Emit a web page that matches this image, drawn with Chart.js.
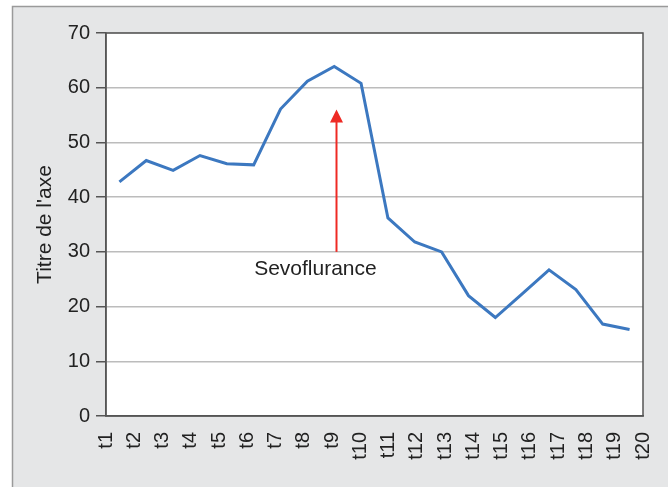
<!DOCTYPE html>
<html><head><meta charset="utf-8">
<script src="https://cdn.jsdelivr.net/npm/chart.js@4.4.1/dist/chart.umd.min.js"></script>
<style>html,body{margin:0;padding:0;background:#fff}#wrap{width:668px;height:487px;position:relative}</style>
</head><body><div id="wrap"><canvas id="c" width="668" height="487"></canvas></div>
<script>
const categories = ['t1','t2','t3','t4','t5','t6','t7','t8','t9','t10','t11','t12','t13','t14','t15','t16','t17','t18','t19','t20'];
const values = [42.8, 46.7, 44.9, 47.6, 46.1, 45.9, 56.1, 61.2, 63.9, 60.8, 36.2, 31.8, 30.0, 22.0, 18.0, 22.3, 26.7, 23.1, 16.8, 15.8];
const yTicks = [0, 10, 20, 30, 40, 50, 60, 70];
const yTitle = "Titre de l'axe";
const arrowCategory = 't9';
const arrowFrom = 30;
const arrowTo = 56;
const arrowLabel = 'Sevoflurance';
const arrowLabelCategoryPos = 7.3;
const arrowLabelValue = 26.9;

const FONT = "'Liberation Sans', Arial, sans-serif";

const framePlugin = {
  id: 'frame',
  beforeDraw(chart) {
    const ctx = chart.ctx, a = chart.chartArea;
    ctx.save();
    ctx.fillStyle = '#ffffff';
    ctx.fillRect(0, 0, chart.width, chart.height);
    ctx.fillStyle = '#e5e6e7';
    ctx.fillRect(12, 6, chart.width, chart.height);
    ctx.strokeStyle = '#9a9a9a';
    ctx.lineWidth = 1.5;
    ctx.beginPath();
    ctx.moveTo(12.5, chart.height + 2);
    ctx.lineTo(12.5, 6.5);
    ctx.lineTo(chart.width + 2, 6.5);
    ctx.stroke();
    ctx.fillStyle = '#ffffff';
    ctx.fillRect(a.left, a.top, a.right - a.left, a.bottom - a.top);
    ctx.restore();
  },
  afterDatasetsDraw(chart) {
    const ctx = chart.ctx, a = chart.chartArea;
    const xs = chart.scales.xd, ys = chart.scales.y;
    ctx.save();
    ctx.strokeStyle = '#555555';
    ctx.lineWidth = 1.5;
    ctx.strokeRect(a.left, a.top, a.right - a.left, a.bottom - a.top);
    // arrow
    const ax = Math.round(xs.getPixelForValue(categories.indexOf(arrowCategory))) + 0.5 + 2;
    const y0 = ys.getPixelForValue(arrowFrom);
    const y1 = ys.getPixelForValue(arrowTo);
    ctx.strokeStyle = '#ee2a24';
    ctx.fillStyle = '#ee2a24';
    ctx.lineWidth = 2;
    ctx.beginPath();
    ctx.moveTo(ax, y0);
    ctx.lineTo(ax, y1 + 10);
    ctx.stroke();
    ctx.beginPath();
    ctx.moveTo(ax, y1);
    ctx.lineTo(ax - 6.5, y1 + 13);
    ctx.lineTo(ax + 6.5, y1 + 13);
    ctx.closePath();
    ctx.fill();
    // label
    ctx.fillStyle = '#222222';
    ctx.font = '21px ' + FONT;
    ctx.textAlign = 'center';
    ctx.textBaseline = 'middle';
    ctx.fillText(arrowLabel, xs.getPixelForValue(arrowLabelCategoryPos), ys.getPixelForValue(arrowLabelValue));
    ctx.restore();
  }
};

new Chart(document.getElementById('c'), {
  type: 'line',
  data: {
    labels: categories,
    datasets: [{
      data: values,
      xAxisID: 'xd',
      borderColor: '#3c78c0',
      borderWidth: 3,
      pointRadius: 0,
      tension: 0,
      fill: false
    }]
  },
  options: {
    responsive: false,
    animation: false,
    devicePixelRatio: 1,
    layout: { padding: { left: 0, top: 33, right: 25, bottom: 0 } },
    plugins: { legend: { display: false }, tooltip: { enabled: false } },
    scales: {
      xd: {
        type: 'category',
        labels: categories,
        offset: true,
        display: false
      },
      x: {
        type: 'category',
        labels: categories,
        offset: false,
        position: 'bottom',
        grid: { display: false, drawTicks: false },
        border: { display: true, color: '#555555', width: 1.5 },
        ticks: { minRotation: 90, maxRotation: 90, autoSkip: false, padding: 16, color: '#222222', font: { family: FONT, size: 20 } },
        afterFit(s) { s.height = 71; s.paddingLeft = 0; s.paddingRight = 0; }
      },
      y: {
        min: 0, max: 70,
        afterBuildTicks(s) { s.ticks = yTicks.map(v => ({ value: v })); },
        grid: { color: '#bcbcbc', lineWidth: 1.5, tickColor: '#555555', tickLength: 10 },
        border: { display: true, color: '#555555', width: 1.5 },
        ticks: { padding: 6, color: '#222222', font: { family: FONT, size: 20 } },
        title: { display: true, text: yTitle, color: '#222222', font: { family: FONT, size: 21 }, padding: { top: 33, bottom: 0 } },
        afterFit(s) { s.width = 106; s.paddingTop = 0; s.paddingBottom = 0; }
      }
    }
  },
  plugins: [framePlugin]
});
</script>
</body></html>
